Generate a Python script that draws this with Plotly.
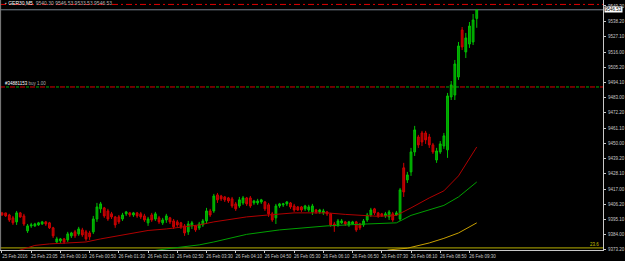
import plotly.graph_objects as go

# ---------------- data ----------------
bar_index = list(range(131))

open_ = [9399.9, 9399.9, 9398.4, 9396.3, 9393.4, 9399.9, 9397.7, 9386.9, 9390.5, 9390.5,
         9391.2, 9391.9, 9393.4, 9392.7, 9389.1, 9378.9, 9379.7, 9381.1, 9380.4, 9383.3,
         9386.2, 9384.7, 9387.6, 9386.2, 9385.4, 9386.2, 9395.5, 9402.8, 9403.5, 9401.3,
         9399.2, 9397.0, 9397.0, 9395.5, 9399.2, 9399.9, 9398.4, 9399.9, 9399.2, 9397.7,
         9392.7, 9398.4, 9395.5, 9396.3, 9392.7, 9394.8, 9396.3, 9394.1, 9393.4, 9392.7,
         9390.5, 9386.2, 9390.5, 9390.5, 9389.1, 9391.2, 9394.1, 9401.3, 9401.3, 9412.9,
         9412.1, 9411.4, 9410.7, 9410.0, 9406.4, 9404.9, 9407.1, 9410.7, 9410.7, 9407.1,
         9407.1, 9407.8, 9407.8, 9405.7, 9399.2, 9396.3, 9404.9, 9405.7, 9406.4, 9407.1,
         9404.9, 9404.2, 9404.2, 9402.8, 9402.0, 9400.6, 9402.0, 9400.6, 9399.9, 9400.6,
         9399.2, 9391.9, 9391.2, 9392.7, 9393.4, 9391.2, 9391.9, 9393.4, 9391.9, 9391.2,
         9394.8, 9398.4, 9402.8, 9399.9, 9399.2, 9397.7, 9397.0, 9399.2, 9398.4, 9395.5,
         9432.4, 9423.7, 9429.5, 9443.9, 9454.7, 9457.6, 9457.6, 9454.7, 9449.0, 9438.1,
         9443.9, 9448.2, 9445.4, 9483.6, 9485.0, 9498.0, 9531.9, 9516.1, 9521.8, 9523.3,
         9540.30]
high = [9400.6, 9399.9, 9399.2, 9397.7, 9401.3, 9400.6, 9399.2, 9391.9, 9392.7, 9392.7,
        9393.4, 9394.1, 9394.1, 9393.4, 9389.8, 9382.6, 9381.8, 9381.8, 9386.2, 9386.2,
        9387.6, 9389.8, 9389.1, 9387.6, 9386.9, 9397.7, 9407.1, 9407.8, 9404.2, 9402.8,
        9400.6, 9397.7, 9398.4, 9399.9, 9401.3, 9400.6, 9400.6, 9400.6, 9400.6, 9399.2,
        9397.0, 9399.9, 9400.6, 9397.7, 9396.3, 9399.2, 9397.0, 9395.5, 9394.8, 9393.4,
        9391.9, 9394.1, 9394.1, 9391.2, 9393.4, 9395.5, 9403.5, 9402.8, 9413.6, 9414.3,
        9412.9, 9412.1, 9411.4, 9411.4, 9407.8, 9411.4, 9412.1, 9411.4, 9412.1, 9409.3,
        9410.0, 9410.0, 9408.5, 9407.1, 9400.6, 9406.4, 9407.1, 9407.1, 9408.5, 9407.8,
        9406.4, 9404.9, 9404.9, 9405.7, 9405.7, 9406.4, 9402.8, 9402.8, 9402.8, 9401.3,
        9399.9, 9393.4, 9395.5, 9395.5, 9394.1, 9394.1, 9394.1, 9394.1, 9392.7, 9395.5,
        9399.9, 9403.5, 9403.5, 9400.6, 9399.9, 9400.6, 9402.0, 9400.6, 9401.3, 9417.9,
        9436.0, 9429.5, 9446.8, 9462.7, 9456.2, 9459.1, 9459.1, 9456.9, 9450.4, 9446.8,
        9451.8, 9457.6, 9486.5, 9495.1, 9510.3, 9523.3, 9534.1, 9529.8, 9537.7, 9543.5,
        9546.53]
low = [9397.7, 9397.0, 9393.4, 9391.2, 9391.2, 9396.3, 9390.5, 9385.4, 9389.1, 9389.8,
       9390.5, 9391.2, 9390.5, 9388.3, 9381.8, 9377.5, 9378.2, 9377.5, 9378.9, 9381.8,
       9381.8, 9383.3, 9382.6, 9379.7, 9380.4, 9384.7, 9393.4, 9399.9, 9396.3, 9394.1,
       9395.5, 9389.1, 9391.9, 9394.1, 9397.7, 9397.0, 9397.0, 9396.3, 9395.5, 9393.4,
       9390.5, 9393.4, 9394.1, 9391.9, 9391.2, 9392.7, 9391.9, 9388.3, 9389.8, 9388.3,
       9383.3, 9384.0, 9388.3, 9386.2, 9387.6, 9389.8, 9391.9, 9397.0, 9399.9, 9407.1,
       9408.5, 9407.8, 9407.1, 9403.5, 9401.3, 9403.5, 9405.7, 9404.9, 9403.5, 9405.7,
       9405.7, 9406.4, 9401.3, 9397.0, 9393.4, 9391.9, 9403.5, 9404.2, 9404.9, 9402.8,
       9400.6, 9401.3, 9400.6, 9401.3, 9400.6, 9398.4, 9399.2, 9399.2, 9398.4, 9397.7,
       9389.8, 9386.2, 9389.8, 9391.9, 9390.5, 9389.8, 9391.2, 9386.2, 9387.6, 9389.8,
       9393.4, 9397.0, 9398.4, 9396.3, 9397.0, 9396.3, 9394.8, 9393.4, 9397.7, 9394.1,
       9411.4, 9421.5, 9426.6, 9441.0, 9446.8, 9448.2, 9449.7, 9446.8, 9442.5, 9436.0,
       9442.5, 9446.1, 9439.6, 9481.4, 9481.4, 9495.9, 9517.5, 9511.7, 9519.0, 9521.1,
       9533.53]
close = [9398.4, 9397.7, 9394.8, 9392.7, 9399.9, 9397.0, 9391.9, 9390.5, 9391.2, 9391.9,
         9392.7, 9393.4, 9391.9, 9389.1, 9383.3, 9381.1, 9381.1, 9378.9, 9384.7, 9385.4,
         9383.3, 9388.3, 9384.0, 9381.1, 9382.6, 9395.5, 9404.2, 9406.4, 9397.7, 9395.5,
         9397.0, 9391.2, 9393.4, 9398.4, 9400.6, 9398.4, 9399.9, 9397.7, 9397.0, 9394.8,
         9395.5, 9394.8, 9399.2, 9393.4, 9394.8, 9397.7, 9393.4, 9389.8, 9391.2, 9389.8,
         9385.4, 9391.9, 9392.7, 9387.6, 9391.9, 9394.1, 9401.3, 9398.4, 9412.1, 9409.3,
         9410.0, 9409.3, 9408.5, 9404.9, 9402.8, 9409.3, 9410.7, 9406.4, 9404.9, 9408.5,
         9408.5, 9409.3, 9402.8, 9399.2, 9394.8, 9404.9, 9406.4, 9406.4, 9407.8, 9404.2,
         9402.0, 9402.0, 9402.0, 9404.9, 9404.2, 9404.9, 9400.6, 9402.0, 9401.3, 9399.2,
         9391.2, 9390.5, 9394.1, 9394.1, 9391.9, 9393.4, 9393.4, 9387.6, 9389.1, 9394.1,
         9398.4, 9402.0, 9399.9, 9397.7, 9397.7, 9399.2, 9400.6, 9394.8, 9399.9, 9416.5,
         9415.0, 9427.3, 9443.9, 9459.8, 9449.0, 9451.1, 9452.6, 9449.0, 9443.9, 9444.6,
         9449.7, 9455.5, 9484.3, 9492.3, 9507.4, 9520.4, 9519.7, 9526.2, 9534.8, 9539.2,
         9546.53]

red_ma_idx = [0, 6, 9, 13, 18, 23, 27, 31, 36, 40, 45, 50, 54, 58, 62, 67, 73, 80, 89,
              94, 103, 108, 112, 117, 121, 125, 130]
red_ma = [9368.9, 9373.9, 9376.4, 9377.5, 9378.2, 9378.9, 9381.1, 9382.9, 9385.4, 9387.2,
          9388.3, 9389.8, 9391.2, 9393.4, 9395.2, 9397.0, 9398.4, 9399.9, 9399.9, 9398.8,
          9397.4, 9398.1, 9403.5, 9410.7, 9415.8, 9426.6, 9447.5]

green_ma_idx = [39, 41, 45, 49, 54, 58, 62, 67, 76, 85, 89, 100, 108, 112, 117, 121, 125, 130]
green_ma = [9370.3, 9372.4, 9373.9, 9375.3, 9376.8, 9378.9, 9381.5, 9384.4, 9387.6, 9389.8,
            9390.5, 9391.9, 9392.7, 9398.1, 9402.0, 9405.3, 9411.4, 9422.2]

yellow_ma_idx = [104, 106, 111, 117, 121, 125, 130]
yellow_ma = [9371.7, 9373.2, 9374.4, 9378.2, 9381.5, 9385.4, 9392.7]

top_level = 9550.4        # red dash-dot level
order_level = 9490.8      # order line
bid_price = 9546.53
fib_level = 9374.6
fib_label = "23.6"

x_tick_idx = [0, 8, 16, 24, 32, 40, 48, 56, 64, 72, 80, 88, 96, 104, 112, 120, 128]
x_tick_text = ["25 Feb 2016", "25 Feb 23:05", "26 Feb 00:10", "26 Feb 00:50", "26 Feb 01:30",
               "26 Feb 02:10", "26 Feb 02:50", "26 Feb 03:30", "26 Feb 04:10", "26 Feb 04:50",
               "26 Feb 05:30", "26 Feb 06:10", "26 Feb 06:50", "26 Feb 07:30", "26 Feb 08:10",
               "26 Feb 08:50", "26 Feb 09:30"]
y_tick_vals = [9373.20, 9384.00, 9395.10, 9406.20, 9417.00, 9428.10, 9439.20, 9450.00, 9461.10,
               9472.20, 9483.00, 9494.10, 9505.20, 9516.00, 9527.10, 9538.20, 9549.30]
y_tick_text = ["%.2f" % v for v in y_tick_vals]

header = "▪ <span style='color:#ffffff'>GER30,M5</span>  9540.30 9546.53 9533.53 9546.53"
order_text = "<span style='color:#ffffff'>#34881153</span> buy 1.00"

# ---------------- figure ----------------
FONT = "Liberation Sans, Arial, sans-serif"
AX = "#c8c8c8"

fig = go.Figure()
fig.add_trace(go.Candlestick(
    x=bar_index, open=open_, high=high, low=low, close=close,
    increasing=dict(line=dict(color="#00c000", width=1), fillcolor="#009a00"),
    decreasing=dict(line=dict(color="#d00000", width=1), fillcolor="#a00000"),
    whiskerwidth=0, hoverinfo="skip", showlegend=False))

fig.add_trace(go.Scatter(x=red_ma_idx, y=red_ma, mode="lines",
                         line=dict(color="#b00000", width=1), hoverinfo="skip"))
fig.add_trace(go.Scatter(x=green_ma_idx, y=green_ma, mode="lines",
                         line=dict(color="#00a000", width=1), hoverinfo="skip"))
fig.add_trace(go.Scatter(x=yellow_ma_idx, y=yellow_ma, mode="lines",
                         line=dict(color="#c8a000", width=1), hoverinfo="skip"))

shapes = [
    dict(type="line", xref="paper", x0=0, x1=1, yref="y", y0=top_level, y1=top_level,
         line=dict(color="#e00000", width=1, dash="6px,3px,2px,3px"), layer="below"),
    dict(type="line", xref="paper", x0=0, x1=1, yref="y", y0=order_level, y1=order_level,
         line=dict(color="#00b000", width=1, dash="0px,6px,3px,1px"), layer="below"),
    dict(type="line", xref="paper", x0=0, x1=1, yref="y", y0=order_level, y1=order_level,
         line=dict(color="#e00000", width=1, dash="5px,5px"), layer="below"),
    dict(type="line", xref="paper", x0=0, x1=1, yref="y", y0=bid_price, y1=bid_price,
         line=dict(color="#77808c", width=1), layer="below"),
    dict(type="line", xref="paper", x0=0, x1=1, yref="y", y0=fib_level, y1=fib_level,
         line=dict(color="#b8b000", width=1), layer="below"),
    dict(type="line", xref="paper", x0=0.001, x1=0.001, yref="paper", y0=0, y1=1,
         line=dict(color="#808080", width=1)),
]

annotations = [
    dict(xref="paper", yref="paper", x=0.005, y=1, xanchor="left", yanchor="top", yshift=2,
         text=header, showarrow=False, font=dict(family=FONT, size=5, color="#b0b0b0")),
    dict(xref="x", yref="y", x=0.3, y=order_level, xanchor="left", yanchor="bottom", yshift=-1,
         text=order_text, showarrow=False, font=dict(family=FONT, size=4.5, color="#b0b0b0")),
    dict(xref="paper", yref="y", x=1, y=bid_price, xanchor="left", yanchor="middle", xshift=1,
         text="%.2f" % bid_price, showarrow=False, bgcolor="#ffffff", borderpad=0,
         font=dict(family=FONT, size=4.5, color="#000000")),
    dict(xref="paper", yref="y", x=0.997, y=fib_level, xanchor="right", yanchor="bottom", yshift=-1,
         text=fib_label, showarrow=False, font=dict(family=FONT, size=4.5, color="#c8c000")),
]

fig.update_layout(
    width=625, height=261,
    margin=dict(l=0, r=20, t=0, b=11, pad=0),
    paper_bgcolor="#000000", plot_bgcolor="#000000",
    showlegend=False,
    shapes=shapes, annotations=annotations,
    font=dict(family=FONT, size=4.5, color=AX),
    xaxis=dict(range=[-0.546, 164.57], showgrid=False, zeroline=False,
               showline=True, linecolor=AX, linewidth=1,
               ticks="outside", ticklen=2, tickcolor=AX,
               tickmode="array", tickvals=x_tick_idx, ticktext=x_tick_text,
               tickfont=dict(family=FONT, size=4.5, color=AX),
               ticklabelshift=13, ticklabelstandoff=0,
               rangeslider=dict(visible=False), fixedrange=True),
    yaxis=dict(range=[9373.1, 9553.6], side="right", showgrid=False, zeroline=False,
               showline=True, linecolor=AX, linewidth=1,
               ticks="outside", ticklen=2, tickcolor=AX,
               tickmode="array", tickvals=y_tick_vals, ticktext=y_tick_text,
               tickfont=dict(family=FONT, size=4.5, color=AX),
               ticklabelstandoff=1, fixedrange=True),
)

fig.write_html("out.html")
